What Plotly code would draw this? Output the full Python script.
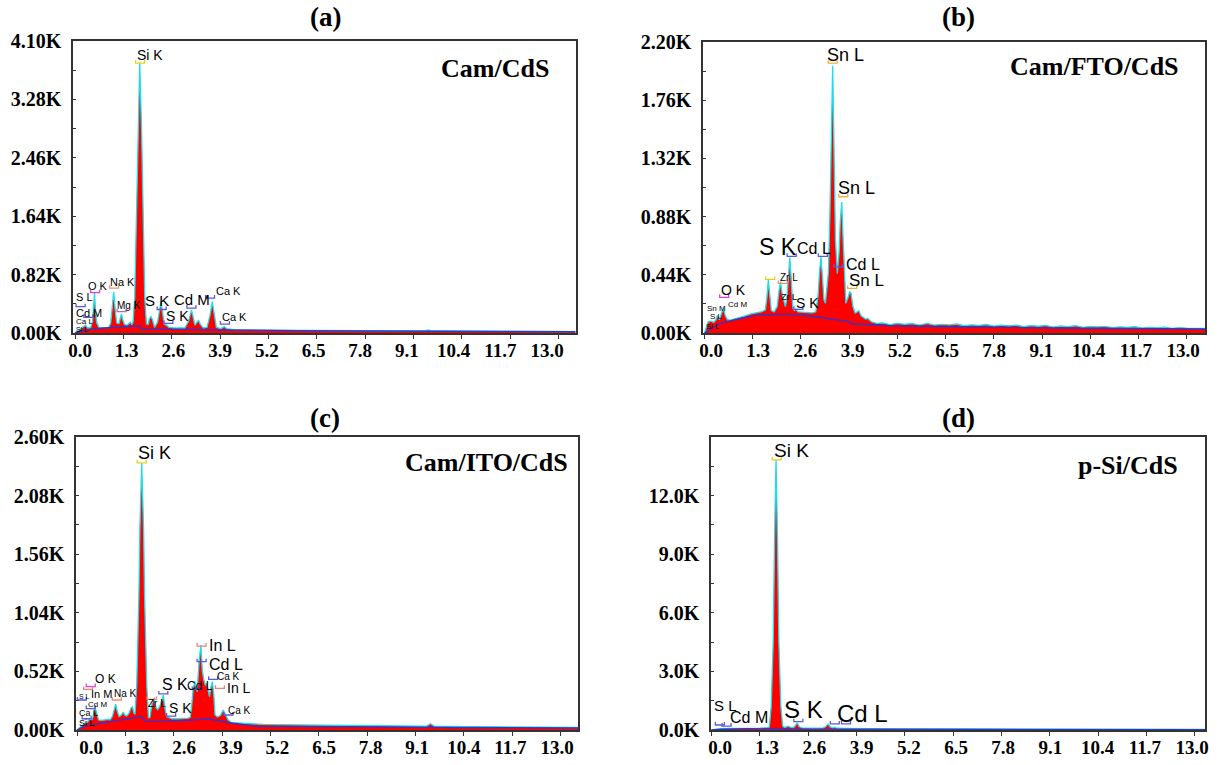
import plotly.graph_objects as go

W, H = 1225, 765

# ---------------- shared axis labels ----------------
kev_ticks = [0.0, 1.3, 2.6, 3.9, 5.2, 6.5, 7.8, 9.1, 10.4, 11.7, 13.0]
kev_tick_text = ["0.0", "1.3", "2.6", "3.9", "5.2", "6.5", "7.8", "9.1", "10.4", "11.7", "13.0"]

# ---------------- (a) Cam/CdS ----------------
a_kev = [0.00, 0.08, 0.15, 0.22, 0.28, 0.34, 0.42, 0.47, 0.50, 0.525, 0.55, 0.58, 0.64, 0.75, 0.90,
         0.96, 1.00, 1.04, 1.08, 1.12, 1.18, 1.22, 1.25, 1.28, 1.33, 1.40, 1.45, 1.49, 1.53,
         1.56, 1.605, 1.664, 1.69, 1.74, 1.79, 1.816, 1.875, 1.92, 1.97, 2.00, 2.04, 2.08, 2.14,
         2.22, 2.27, 2.31, 2.35, 2.40, 2.46, 2.52, 2.65, 2.80, 2.95, 3.05, 3.10, 3.13, 3.17, 3.22,
         3.28, 3.32, 3.37, 3.45, 3.55, 3.63, 3.69, 3.74, 3.80, 3.92, 4.01, 4.08, 4.30, 5.0, 6.0,
         7.0, 8.0, 9.0, 9.4, 9.5, 9.6, 10.5, 11.5, 12.5, 13.45]
a_cps = [0, 30, 60, 75, 110, 70, 75, 160, 330, 560, 330, 150, 80, 75, 75,
         140, 330, 580, 330, 140, 130, 200, 270, 190, 120, 110, 140, 150, 120,
         150, 500, 1910, 2850, 3790, 2850, 1910, 500, 130, 120, 200, 230, 190, 80,
         150, 350, 440, 300, 120, 110, 80, 70, 65, 70, 160, 290, 320, 240, 110,
         150, 180, 120, 70, 80, 250, 440, 250, 80, 60, 90, 60, 45, 40, 35,
         32, 30, 28, 30, 42, 28, 25, 22, 20, 18]
a_bg_kev = [0.0, 0.2, 0.5, 1.0, 1.5, 1.74, 1.76, 2.5, 3.0, 4.0, 6.0, 9.0, 13.45]
a_bg_cps = [0, 30, 60, 80, 95, 95, 60, 55, 50, 42, 32, 26, 18]
a_yticks = [0, 820, 1640, 2460, 3280, 4100]
a_ytext = ["0.00K", "0.82K", "1.64K", "2.46K", "3.28K", "4.10K"]
a_labels = [("Si K", 1.61, 3900, 14), ("O K", 0.30, 660, 11), ("Na K", 0.895, 720, 11),
            ("Mg K", 1.075, 380, 10), ("S L", -0.03, 510, 11), ("Cd M", -0.03, 285, 11),
            ("Ca L", -0.03, 160, 8), ("Si L", -0.03, 56, 7), ("S K", 1.84, 454, 15),
            ("S K", 2.39, 240, 14), ("Cd M", 2.60, 473, 15), ("Ca K", 3.74, 590, 11),
            ("Ca K", 3.90, 220, 11)]
a_marks = [(1.75, 3790, "#e8d020"), (0.54, 566, "#e040e0"), (1.05, 630, "#f09070"),
           (1.25, 300, "#a070c0"), (0.15, 370, "#5a5ae0"), (0.36, 220, "#5a5ae0"),
           (2.33, 330, "#5a5ae0"), (2.51, 136, "#5a5ae0"), (3.13, 350, "#5a5ae0"),
           (3.63, 490, "#5a5ae0"), (4.03, 126, "#5a5ae0")]

# ---------------- (b) Cam/FTO/CdS ----------------
b_kev = [0.00, 0.05, 0.10, 0.18, 0.24, 0.30, 0.35, 0.40, 0.46, 0.51, 0.56, 0.62, 0.70, 0.80, 0.96,
         1.10, 1.23, 1.40, 1.55, 1.64, 1.68, 1.72, 1.76, 1.80, 1.88, 1.96, 2.01, 2.05, 2.09, 2.14,
         2.18, 2.22, 2.26, 2.30, 2.34, 2.38, 2.42, 2.46, 2.52, 2.70, 2.90, 3.00, 3.06, 3.10, 3.14,
         3.18, 3.22, 3.26, 3.30, 3.34, 3.38, 3.42, 3.455, 3.49, 3.53, 3.58, 3.63, 3.66, 3.70, 3.73,
         3.77, 3.81, 3.86, 3.91, 3.95, 4.00, 4.06, 4.12, 4.16, 4.22, 4.28, 4.34, 4.40, 4.50, 4.64,
         4.8, 5.0, 5.2, 5.4, 5.6, 5.8, 6.0, 6.2, 6.4, 6.6, 6.8, 7.0, 7.2, 7.4, 7.6, 7.8, 8.0,
         8.2, 8.4, 8.6, 8.8, 9.0, 9.2, 9.4, 9.6, 9.8, 10.0, 10.2, 10.4, 10.6, 10.8, 11.0, 11.2,
         11.4, 11.6, 11.8, 12.0, 12.2, 12.4, 12.6, 12.8, 13.0, 13.2, 13.5]
b_cps = [0, 40, 85, 90, 80, 95, 135, 100, 150, 190, 130, 100, 98, 105, 118,
         130, 143, 155, 162, 175, 260, 400, 260, 170, 160, 200, 320, 387, 300, 230,
         200, 260, 420, 570, 400, 190, 170, 180, 160, 155, 152, 160, 280, 460, 575,
         420, 250, 226, 380, 460, 900, 1600, 2020, 1400, 700, 450, 620, 850, 990, 750,
         400, 224, 260, 310, 300, 200, 150, 165, 168, 130, 120, 105, 110, 85, 73,
         76, 64, 73, 66, 71, 60, 72, 59, 65, 61, 68, 55, 62, 57, 64, 52, 59,
         54, 60, 49, 56, 51, 57, 45, 53, 48, 55, 43, 49, 46, 50, 40, 46,
         42, 47, 37, 43, 39, 44, 35, 40, 37, 38, 34]
b_bg_kev = [0.0, 0.42, 0.96, 1.41, 2.17, 3.02, 3.92, 3.94, 5.0, 7.0, 10.0, 13.5]
b_bg_cps = [0, 73, 110, 135, 143, 123, 85, 70, 55, 45, 36, 30]
b_yticks = [0, 440, 880, 1320, 1760, 2200]
b_ytext = ["0.00K", "0.44K", "0.88K", "1.32K", "1.76K", "2.20K"]
b_labels = [("Sn L", 3.25, 2100, 18), ("Sn L", 3.54, 1100, 18), ("S K", 1.41, 650, 23),
            ("Cd L", 2.44, 640, 16), ("Cd L", 3.76, 520, 16), ("Sn L", 3.83, 395, 17),
            ("Zr L", 1.99, 417, 10), ("Zr L", 2.02, 270, 9), ("S K", 2.41, 224, 14),
            ("O K", 0.40, 324, 14), ("Cd M", 0.57, 219, 8), ("Sn M", 0.01, 182, 8),
            ("S L", 0.10, 122, 8), ("Si L", -0.01, 50, 8)]
b_marks = [(3.455, 2040, "#f0b040"), (3.74, 1030, "#f0b040"), (2.35, 580, "#5a5ae0"),
           (3.19, 580, "#5a5ae0"), (3.61, 500, "#5a5ae0"), (3.98, 337, "#f0b040"),
           (1.77, 405, "#e8d020"), (2.11, 375, "#f09070"), (2.53, 179, "#5a5ae0"),
           (0.53, 270, "#e040e0")]

# ---------------- (c) Cam/ITO/CdS ----------------
c_kev = [0.00, 0.08, 0.15, 0.21, 0.28, 0.35, 0.40, 0.44, 0.48, 0.53, 0.58, 0.66, 0.75, 0.85, 0.89,
         0.95, 1.00, 1.04, 1.08, 1.13, 1.19, 1.24, 1.29, 1.34, 1.40, 1.45, 1.49, 1.53, 1.56,
         1.605, 1.664, 1.69, 1.74, 1.79, 1.816, 1.875, 1.92, 1.96, 2.00, 2.04, 2.08, 2.12, 2.17,
         2.22, 2.27, 2.32, 2.36, 2.41, 2.48, 2.55, 2.70, 2.85, 2.98, 3.04, 3.08, 3.12, 3.17, 3.23,
         3.28, 3.33, 3.37, 3.41, 3.45, 3.49, 3.53, 3.56, 3.60, 3.64, 3.68, 3.71, 3.78, 3.86, 3.93,
         3.99, 4.06, 4.15, 4.6, 5.0, 6.0, 7.0, 8.0, 9.0, 9.4, 9.5, 9.6, 10.5, 11.5, 12.5, 13.47]
c_cps = [0, 25, 45, 60, 70, 100, 90, 130, 207, 150, 90, 85, 90, 95, 90,
         120, 180, 230, 170, 120, 130, 160, 130, 125, 150, 195, 207, 150, 140,
         400, 1200, 1780, 2370, 1780, 1200, 400, 110, 110, 200, 270, 280, 200, 180,
         207, 250, 310, 200, 118, 110, 100, 100, 100, 105, 110, 200, 360, 430, 340,
         600, 754, 520, 444, 400, 414, 330, 296, 380, 430, 300, 133, 115, 130, 177,
         140, 90, 65, 55, 50, 45, 40, 36, 33, 34, 55, 34, 30, 27, 24, 22]
c_bg_kev = [0.0, 0.17, 0.89, 1.65, 1.74, 1.85, 3.0, 3.5, 4.2, 4.92, 7.0, 10.0, 13.47]
c_bg_cps = [0, 30, 74, 118, 118, 74, 85, 100, 60, 30, 26, 22, 18]
c_yticks = [0, 520, 1040, 1560, 2080, 2600]
c_ytext = ["0.00K", "0.52K", "1.04K", "1.56K", "2.08K", "2.60K"]
c_labels = [("Si K", 1.59, 2455, 18), ("In L", 3.49, 754, 16), ("Cd L", 3.50, 585, 16),
            ("Ca K", 3.70, 475, 10), ("In L", 3.98, 370, 14), ("S K", 2.23, 400, 16),
            ("Cd L", 2.90, 390, 12), ("S K", 2.43, 198, 14), ("Ca K", 4.00, 171, 10),
            ("O K", 0.44, 450, 12), ("In M", 0.33, 320, 11), ("Na K", 0.93, 326, 10),
            ("Zr L", 1.85, 237, 10), ("S L", 0.01, 296, 7), ("Cd M", 0.24, 230, 8),
            ("Ca L", 0.01, 148, 9), ("Si L", 0.01, 60, 9)]
c_marks = [(1.74, 2370, "#e8d020"), (3.35, 745, "#f08080"), (3.35, 606, "#5a5ae0"),
           (3.66, 450, "#5a5ae0"), (3.84, 370, "#f08080"), (2.32, 320, "#5a5ae0"),
           (3.22, 360, "#5a5ae0"), (2.53, 124, "#5a5ae0"), (4.07, 133, "#5a5ae0"),
           (0.37, 385, "#e040e0"), (1.07, 266, "#f09070"), (2.01, 272, "#f09070"),
           (0.30, 360, "#f08080"), (0.13, 266, "#5a5ae0"), (0.37, 190, "#5a5ae0"),
           (0.26, 100, "#5a5ae0")]

# ---------------- (d) p-Si/CdS ----------------
d_kev = [0.00, 0.10, 0.25, 0.45, 0.70, 1.00, 1.30, 1.50, 1.56, 1.61, 1.665, 1.70, 1.74, 1.78,
         1.815, 1.87, 1.92, 1.97, 2.02, 2.07, 2.12, 2.20, 2.26, 2.31, 2.36, 2.45, 2.70, 3.00,
         3.08, 3.14, 3.19, 3.26, 3.32, 3.38, 3.60, 4.00, 5.00, 7.00, 10.0, 13.3]
d_cps = [0, 40, 70, 80, 80, 90, 100, 120, 150, 1200, 4600, 9700, 13830, 9700,
         4600, 1200, 200, 130, 180, 200, 150, 110, 220, 370, 180, 100, 90, 100,
         180, 310, 170, 100, 140, 90, 80, 70, 60, 50, 40, 30]
d_bg_kev = [0.0, 0.3, 1.0, 1.74, 1.76, 3.0, 5.0, 9.0, 13.3]
d_bg_cps = [0, 40, 70, 80, 50, 45, 35, 25, 20]
d_yticks = [0, 3000, 6000, 9000, 12000]
d_ytext = ["0.0K", "3.0K", "6.0K", "9.0K", "12.0K"]
d_labels = [("Si K", 1.63, 14300, 19), ("S L", 0.01, 1280, 15), ("Cd M", 0.46, 650, 16),
            ("S K", 1.89, 1060, 24), ("Cd L", 3.33, 855, 24)]
d_marks = [(1.76, 13830, "#e8d020"), (0.23, 256, "#5a5ae0"), (0.41, 200, "#5a5ae0"),
           (2.34, 425, "#5a5ae0"), (3.32, 310, "#5a5ae0"), (3.62, 310, "#5a5ae0")]

# ---------------- panel layout (pixel boxes) ----------------
panels = [
    dict(tag="(a)", name="Cam/CdS", kev=a_kev, cps=a_cps, bgk=a_bg_kev, bgc=a_bg_cps,
         yt=a_yticks, ytx=a_ytext, ymax=4100, minor=410, labels=a_labels, marks=a_marks,
         box=(73, 576, 41, 333), zero=75, scale=37.2, lab=(80, 547),
         title_xy=(325, 17), name_xy=(495, 68)),
    dict(tag="(b)", name="Cam/FTO/CdS", kev=b_kev, cps=b_cps, bgk=b_bg_kev, bgc=b_bg_cps,
         yt=b_yticks, ytx=b_ytext, ymax=2200, minor=220, labels=b_labels, marks=b_marks,
         box=(703, 1205, 42, 333), zero=704.5, scale=37.1, lab=(711, 1183),
         title_xy=(958, 17), name_xy=(1094, 66)),
    dict(tag="(c)", name="Cam/ITO/CdS", kev=c_kev, cps=c_cps, bgk=c_bg_kev, bgc=c_bg_cps,
         yt=c_yticks, ytx=c_ytext, ymax=2600, minor=260, labels=c_labels, marks=c_marks,
         box=(76, 578, 437, 730), zero=77, scale=37.2, lab=(91, 557),
         title_xy=(325, 418), name_xy=(486, 463)),
    dict(tag="(d)", name="p-Si/CdS", kev=d_kev, cps=d_cps, bgk=d_bg_kev, bgc=d_bg_cps,
         yt=d_yticks, ytx=d_ytext, ymax=15000, minor=1500, labels=d_labels, marks=d_marks,
         box=(711, 1205, 437, 730), zero=711.3, scale=37.2, lab=(720, 1192),
         title_xy=(958, 418), name_xy=(1128, 466)),
]

SERIF_B = dict(family="Liberation Serif, Times New Roman, serif", weight="bold", color="black")
SANS = "Liberation Sans, Arial, sans-serif"

fig = go.Figure()
layout = dict(width=W, height=H, margin=dict(l=0, r=0, t=0, b=0, autoexpand=False),
              paper_bgcolor="white", plot_bgcolor="white", showlegend=False)
annotations, shapes = [], []

for i, p in enumerate(panels):
    n = i + 1
    xs = "x" if n == 1 else f"x{n}"
    ys = "y" if n == 1 else f"y{n}"
    lx = f"x{n + 4}"
    l, r, t, b = p["box"]
    xdom = [l / W, r / W]
    ydom = [1 - b / H, 1 - t / H]
    xr = [(l - p["zero"]) / p["scale"], (r - p["zero"]) / p["scale"]]
    s13 = (p["lab"][1] - p["lab"][0]) / 13.0
    lr = [(l - p["lab"][0]) / s13, (r - p["lab"][0]) / s13]

    # spectrum (red fill, cyan edge) and fitted background
    fig.add_trace(go.Scatter(x=p["kev"], y=p["cps"], xaxis=xs, yaxis=ys, mode="lines",
                             line=dict(color="#22dde8", width=1.3), fill="tozeroy",
                             fillcolor="#ff0000", hoverinfo="skip"))
    fig.add_trace(go.Scatter(x=p["bgk"], y=p["bgc"], xaxis=xs, yaxis=ys, mode="lines",
                             line=dict(color="#3434c8", width=1.4), hoverinfo="skip"))
    fig.add_trace(go.Scatter(x=[], y=[], xaxis=lx, yaxis=ys, mode="lines"))

    axline = dict(showline=True, linecolor="#333333", linewidth=1.5, mirror=True,
                  showgrid=False, zeroline=False, automargin=False)
    layout[f"xaxis{n}" if n > 1 else "xaxis"] = dict(
        domain=xdom, anchor=ys, range=xr, tickvals=kev_ticks, showticklabels=False,
        ticks="outside", ticklen=4, tickcolor="#333333", **axline)
    layout[f"xaxis{n + 4}"] = dict(
        domain=xdom, anchor=ys, overlaying=xs, side="bottom", range=lr,
        tickvals=kev_ticks, ticktext=kev_tick_text, ticks="", showline=False,
        showgrid=False, zeroline=False, automargin=False,
        tickfont=dict(size=19, **SERIF_B), ticklabelstandoff=4)
    layout[f"yaxis{n}" if n > 1 else "yaxis"] = dict(
        domain=ydom, anchor=xs, range=[0, p["ymax"]], tickvals=p["yt"], ticktext=p["ytx"],
        ticks="inside", ticklen=3, tickcolor="#333333",
        minor=dict(dtick=p["minor"], ticks="inside", ticklen=3, tickcolor="#333333"),
        tickfont=dict(size=20, **SERIF_B), ticklabelstandoff=6, **axline)

    # peak labels
    for txt, kx, ky, sz in p["labels"]:
        annotations.append(dict(x=kx, y=ky, xref=xs, yref=ys, text=txt, showarrow=False,
                                xanchor="left", yanchor="middle",
                                font=dict(family=SANS, size=sz, color="black")))
    # line markers (small brackets under the labels)
    for kx, ky, col in p["marks"]:
        shapes.append(dict(type="path", xref=xs, yref=ys, xsizemode="pixel", ysizemode="pixel",
                           xanchor=kx, yanchor=ky, path="M -4.5,3 L -4.5,0 L 4.5,0 L 4.5,3",
                           line=dict(color=col, width=1.3)))

    # panel tag and sample name
    annotations.append(dict(x=p["title_xy"][0] / W, y=1 - p["title_xy"][1] / H, xref="paper",
                            yref="paper", text=p["tag"], showarrow=False, xanchor="center",
                            yanchor="middle", font=dict(size=27, **SERIF_B)))
    annotations.append(dict(x=p["name_xy"][0] / W, y=1 - p["name_xy"][1] / H, xref="paper",
                            yref="paper", text=p["name"], showarrow=False, xanchor="center",
                            yanchor="middle", font=dict(size=26, **SERIF_B)))

layout["annotations"] = annotations
layout["shapes"] = shapes
fig.update_layout(**layout)
fig.write_html("out.html")
